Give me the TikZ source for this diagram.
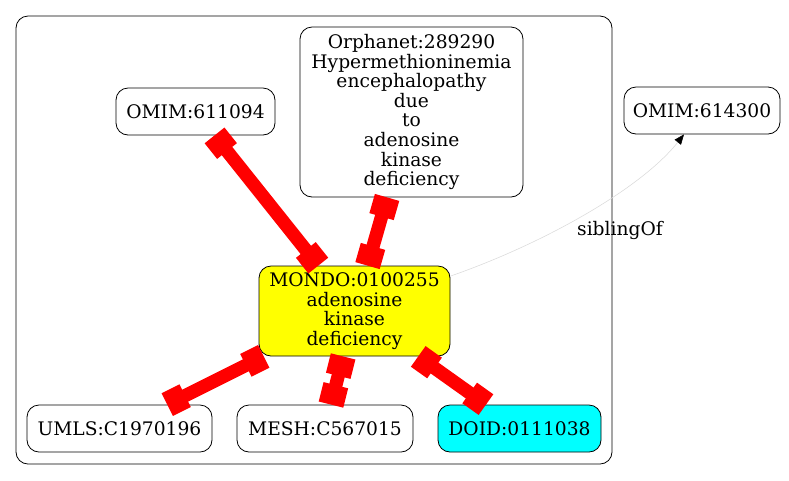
\documentclass[tikz,border=0pt]{standalone}
\usepackage{fontspec}
\setmainfont{DejaVu Serif}
\usetikzlibrary{arrows.meta,calc}
\definecolor{termyellow}{RGB}{255,255,0}
\definecolor{termcyan}{RGB}{0,255,255}
\definecolor{edgered}{RGB}{255,0,0}
\begin{document}
\begin{tikzpicture}[x=0.75pt,y=-0.75pt,
        term/.style={draw=black, line width=0.6pt, rounded corners=9pt, inner sep=0pt,
            align=center, font=\fontsize{14}{14.7}\selectfont, minimum height=35.25pt},
        rededge/.style={draw=edgered, line width=10pt,
            {Square[length=15pt,width=19pt]}-{Square[length=15pt,width=19pt]}},
        sibling/.style={draw=black!15, line width=0.4pt,
            -{Triangle[length=7.5pt,width=6pt,black]}}]
                \useasboundingbox (0,0) rectangle (789,480);
                % cluster
                \draw[line width=0.6pt, rounded corners=9pt] (16,16) rectangle (612,464);
                % terms
                \node[term, minimum width=119.25pt] (omimA) at (195.5,111.5) {OMIM:611094};
                \node[term, minimum width=167.25pt, minimum height=127.5pt] (orpha) at (411.5,112)
                    {Orphanet:289290\\Hypermethioninemia\\encephalopathy\\due\\to\\adenosine\\kinase\\deficiency};
                \node[term, minimum width=117pt] (omimB) at (702,110.5) {OMIM:614300};
                \node[term, fill=termyellow, minimum width=143.25pt, minimum height=67.5pt] (mondo) at (354.5,311)
                    {MONDO:0100255\\adenosine\\kinase\\deficiency};
                \node[term, minimum width=138.75pt] (umls) at (119.5,428.5) {UMLS:C1970196};
                \node[term, minimum width=132pt] (mesh) at (325,428.5) {MESH:C567015};
                \node[term, fill=termcyan, minimum width=122.25pt] (doid) at (519.5,428.5) {DOID:0111038};
                % edges
                \draw[rededge] (omimA) -- (mondo);
                \draw[rededge] (orpha) -- (mondo);
                \draw[rededge] (mondo) -- (umls);
                \draw[rededge] (mondo) -- (mesh);
                \draw[rededge] (mondo) -- (doid);
                \draw[sibling] (mondo.20) .. controls (540,245) and (640,190) .. (omimB.233);
                \node[font=\fontsize{14}{14.7}\selectfont, inner sep=0pt] (siblab) at (620,230) {siblingOf};
\end{tikzpicture}
\end{document}
